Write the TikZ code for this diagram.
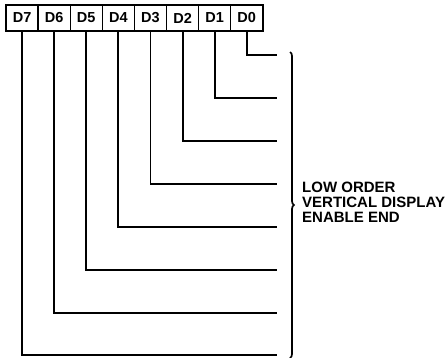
\documentclass[tikz,border=0pt]{standalone}
\usepackage{fontspec}
\setmainfont{Liberation Sans}
\usetikzlibrary{decorations.pathreplacing}
\begin{document}
\begin{tikzpicture}[x=1bp,y=-1bp,
  bitbox/.style={draw,line width=1.4bp,minimum width=32.1bp,minimum height=26bp,inner sep=0pt,font=\bfseries\fontsize{14.5bp}{16bp}\selectfont},
  wire/.style={line width=1.9bp},
  bracestyle/.style={line width=1.7bp,decorate,decoration={brace,amplitude=4bp,aspect=0.5}}]
\useasboundingbox (0,0) rectangle (446,357);
\foreach \i/\n in {0/7,1/6,2/5,3/4,4/3,5/2,6/1,7/0}{
  \node[bitbox] (d\n) at ({6+32.1*\i+16.05},18) {D\n};
}
\foreach \n/\y in {0/55,1/98,2/141,3/184,4/227,5/270,6/313,7/355}{
  \coordinate (e\n) at (277,\y);
  \draw[wire] (d\n.south) |- (e\n);
}
\coordinate (btop) at (290,52);
\coordinate (bbot) at (290,358);
\draw[bracestyle] (btop) -- (bbot);
\node[anchor=base west,align=left,inner sep=0pt,font=\bfseries\fontsize{15bp}{14.8bp}\selectfont] (lbl) at (302,222) {LOW ORDER\\VERTICAL DISPLAY\\ENABLE END};
\end{tikzpicture}
\end{document}
